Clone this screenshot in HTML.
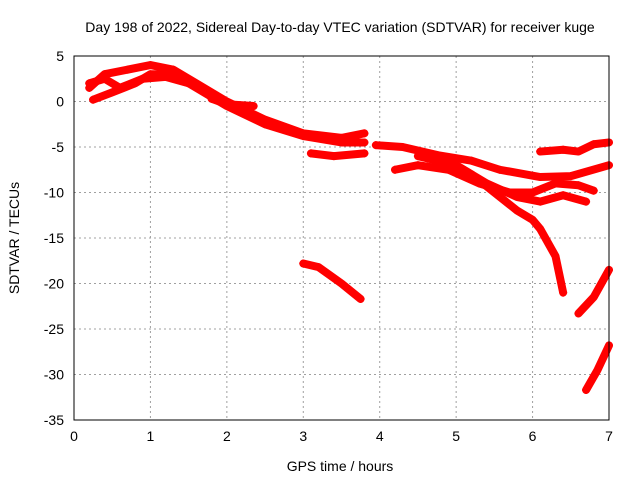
<!DOCTYPE html>
<html><head><meta charset="utf-8"><style>
body{margin:0;background:#fff}
text{font-family:"Liberation Sans",sans-serif;font-size:14px;fill:#000}
</style></head><body>
<svg id="chart" width="640" height="480">
<text x="340" y="32" text-anchor="middle">Day 198 of 2022, Sidereal Day-to-day VTEC variation (SDTVAR) for receiver kuge</text>
<text x="340" y="471" text-anchor="middle">GPS time / hours</text>
<text transform="translate(19,238) rotate(-90)" text-anchor="middle">SDTVAR / TECUs</text>
<g id="grid"></g><g id="series"></g>
<rect x="74" y="56" width="535" height="364" fill="none" stroke="#000"/>
</svg>
<script>
const xTicks=[0,1,2,3,4,5,6,7];
const yTicks=[5,0,-5,-10,-15,-20,-25,-30,-35];
const t1=[[0.2,1.5],[0.4,3],[0.7,3.5],[1.0,4],[1.3,3.5],[1.6,2],[2.0,0],[2.5,-2],[3.0,-3.5],[3.5,-4],[3.8,-3.5]];
const t2=[[0.25,0.2],[0.5,1],[0.8,2],[1.0,3],[1.3,3],[1.6,1.5],[2.0,-0.5],[2.5,-2.5],[3.0,-3.8],[3.5,-4.5],[3.8,-4.5]];
const t3=[[0.2,2],[0.4,2.5],[0.6,1.5],[0.9,2.5],[1.2,2.7],[1.5,2]];
const t4=[[1.8,0.3],[2.0,-0.3],[2.35,-0.5]];
const t5=[[3.1,-5.7],[3.4,-6],[3.8,-5.7]];
const t6=[[3.0,-17.8],[3.2,-18.2],[3.5,-20],[3.75,-21.7]];
const tA=[[3.95,-4.8],[4.3,-5],[4.76,-5.9],[5.2,-6.5],[5.57,-7.5],[6.1,-8.3],[6.5,-8.2],[7,-7]];
const tB=[[4.2,-7.5],[4.5,-7],[4.9,-7.5],[5.3,-9],[5.7,-10],[6.0,-10],[6.3,-9],[6.6,-9.2],[6.8,-9.8]];
const tC=[[4.5,-6],[5.0,-7],[5.4,-9],[5.8,-10.5],[6.1,-11],[6.4,-10.3],[6.7,-11]];
const tD=[[4.8,-6],[5.2,-8],[5.5,-10],[5.8,-12],[6.0,-13],[6.1,-14],[6.3,-17],[6.4,-21]];
const tE=[[6.1,-5.5],[6.4,-5.3],[6.6,-5.5],[6.8,-4.7],[7,-4.5]];
const tF=[[6.6,-23.3],[6.8,-21.5],[7,-18.5]];
const tG=[[6.7,-31.7],[6.85,-29.5],[7,-26.8]];
const tracks=[t1,t2,t3,t4,t5,t6,tA,tB,tC,tD,tE,tF,tG];
const X=h=>74+h*(535/7), Y=v=>56+(5-v)*(364/40);
const NS='http://www.w3.org/2000/svg';
const grid=document.getElementById('grid'), ser=document.getElementById('series');
function mk(tag,attrs,parent){const e=document.createElementNS(NS,tag);for(const k in attrs)e.setAttribute(k,attrs[k]);parent.appendChild(e);return e;}
xTicks.forEach(t=>{
  const g=mk('line',{x1:X(t),x2:X(t),y1:56,y2:420,stroke:'#a0a0a0','stroke-dasharray':'2,3'},grid);
  
  
  const l=mk('text',{x:X(t),y:441,'text-anchor':'middle'},grid);l.textContent=t;
  
  
});
yTicks.forEach(t=>{
  const g=mk('line',{x1:74,x2:609,y1:Y(t),y2:Y(t),stroke:'#a0a0a0','stroke-dasharray':'2,3'},grid);
  
  
  const l=mk('text',{x:64,y:Y(t)+5,'text-anchor':'end'},grid);l.textContent=t;
  
  
});
tracks.forEach((tr,i)=>{
  const p=mk('polyline',{points:tr.map(d=>X(d[0])+','+Y(d[1])).join(' '),fill:'none',stroke:'#f00','stroke-width':8,'stroke-linejoin':'round','stroke-linecap':'round'},ser);
  
  
  tr.forEach(d=>{
    const m=mk('path',{d:`M${X(d[0])-4},${Y(d[1])}h8M${X(d[0])},${Y(d[1])-4}v8`,stroke:'#f00','stroke-width':1.5},ser);
    
    
  });
});
</script>
</body></html>
